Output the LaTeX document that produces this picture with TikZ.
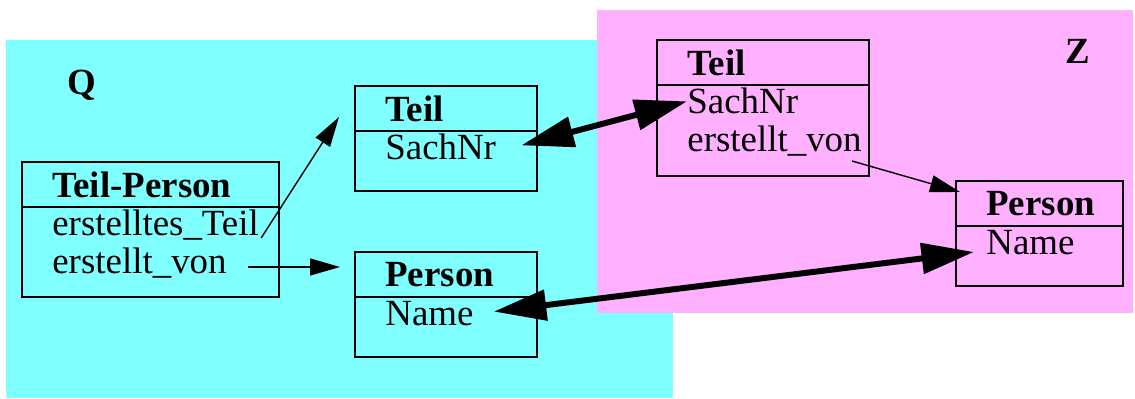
\documentclass[tikz,border=0pt]{standalone}
\usepackage{fontspec}
\setmainfont{Liberation Serif}
\usetikzlibrary{arrows.meta,calc,positioning}

\definecolor{qcyan}{RGB}{128,255,255}
\definecolor{zpink}{RGB}{255,176,255}

\tikzset{
  head/.style={draw, line width=1pt, rectangle, anchor=north west,
    minimum height=0.9cm, inner sep=0, outer sep=0},
  body/.style={draw, line width=1pt, rectangle, anchor=north, inner sep=0, outer sep=0},
  title/.style={font=\fontsize{21}{25}\selectfont\bfseries, anchor=west, inner sep=0},
  attr/.style={anchor=base west, inner sep=0},
  link/.style={-{Triangle[length=0.6cm,width=0.34cm]}, line width=0.8pt},
  match/.style={{Triangle[length=1.05cm,width=0.6cm]}-{Triangle[length=1.05cm,width=0.6cm]},
    line width=3.4pt},
}

\begin{document}
\begin{tikzpicture}[font=\fontsize{21}{25}\selectfont]
\useasboundingbox (0,0) rectangle (22.7,7.98);
%% schemas
\fill[qcyan] (0.12,0.02) rectangle (13.46,7.18);
\fill[zpink] (11.94,1.72) rectangle (22.66,7.78);
\node[title, anchor=center] (qname) at (1.64,6.28) {Q};
\node[title, anchor=center] (zname) at (21.56,6.96) {Z};
%% Q: Teil-Person
\node[head, minimum width=5.14cm] (tp) at (0.44,4.74) {};
\node[body, minimum width=5.14cm, minimum height=1.8cm] (tp-b) at (tp.south) {};
\node[title] (tp-t) at ([xshift=0.6cm]tp.west) {Teil-Person};
\node[attr] (tp-teil) at ([xshift=0.6cm,yshift=-0.58cm]tp-b.north west) {erstelltes\_Teil};
\node[attr] (tp-von) at ([xshift=0.6cm,yshift=-1.34cm]tp-b.north west) {erstellt\_von};
%% Q: Teil
\node[head, minimum width=3.64cm] (tq) at (7.1,6.26) {};
\node[body, minimum width=3.64cm, minimum height=1.2cm] (tq-b) at (tq.south) {};
\node[title] (tq-t) at ([xshift=0.6cm]tq.west) {Teil};
\node[attr] (tq-sach) at ([xshift=0.6cm,yshift=-0.58cm]tq-b.north west) {SachNr};
%% Q: Person
\node[head, minimum width=3.64cm] (pq) at (7.1,2.94) {};
\node[body, minimum width=3.64cm, minimum height=1.2cm] (pq-b) at (pq.south) {};
\node[title] (pq-t) at ([xshift=0.6cm]pq.west) {Person};
\node[attr] (pq-name) at ([xshift=0.6cm,yshift=-0.58cm]pq-b.north west) {Name};
%% Z: Teil
\node[head, minimum width=4.24cm] (tz) at (13.14,7.18) {};
\node[body, minimum width=4.24cm, minimum height=1.82cm] (tz-b) at (tz.south) {};
\node[title] (tz-t) at ([xshift=0.6cm]tz.west) {Teil};
\node[attr] (tz-sach) at ([xshift=0.6cm,yshift=-0.58cm]tz-b.north west) {SachNr};
\node[attr] (tz-von) at ([xshift=0.6cm,yshift=-1.34cm]tz-b.north west) {erstellt\_von};
%% Z: Person
\node[head, minimum width=3.34cm] (pz) at (19.12,4.36) {};
\node[body, minimum width=3.34cm, minimum height=1.2cm] (pz-b) at (pz.south) {};
\node[title] (pz-t) at ([xshift=0.6cm]pz.west) {Person};
\node[attr] (pz-name) at ([xshift=0.6cm,yshift=-0.58cm]pz-b.north west) {Name};
%% references
\coordinate (tp-von-out) at ($(tp-von.base east)+(0.42,0.14)$);
\draw[link] ($(tp-teil.base east)+(0.04,-0.04)$) -- ($(tq.west)+(-0.32,-0.17)$);
\draw[link] (tp-von-out) -- ($(tp-von-out -| pq.west)+(-0.3,0)$);
\draw[link] ($(tz-von.base east)+(-0.2,-0.18)$) -- ($(pz.north west)+(0.08,-0.22)$);
%% correspondences
\draw[match] ($(tq-sach.east)+(0.5,0.04)$) -- (tz-sach.west);
\draw[match] ($(pq-name.east)+(0.4,0.05)$) -- ($(pz-name.base west)+(-0.24,0.06)$);
\end{tikzpicture}
\end{document}
